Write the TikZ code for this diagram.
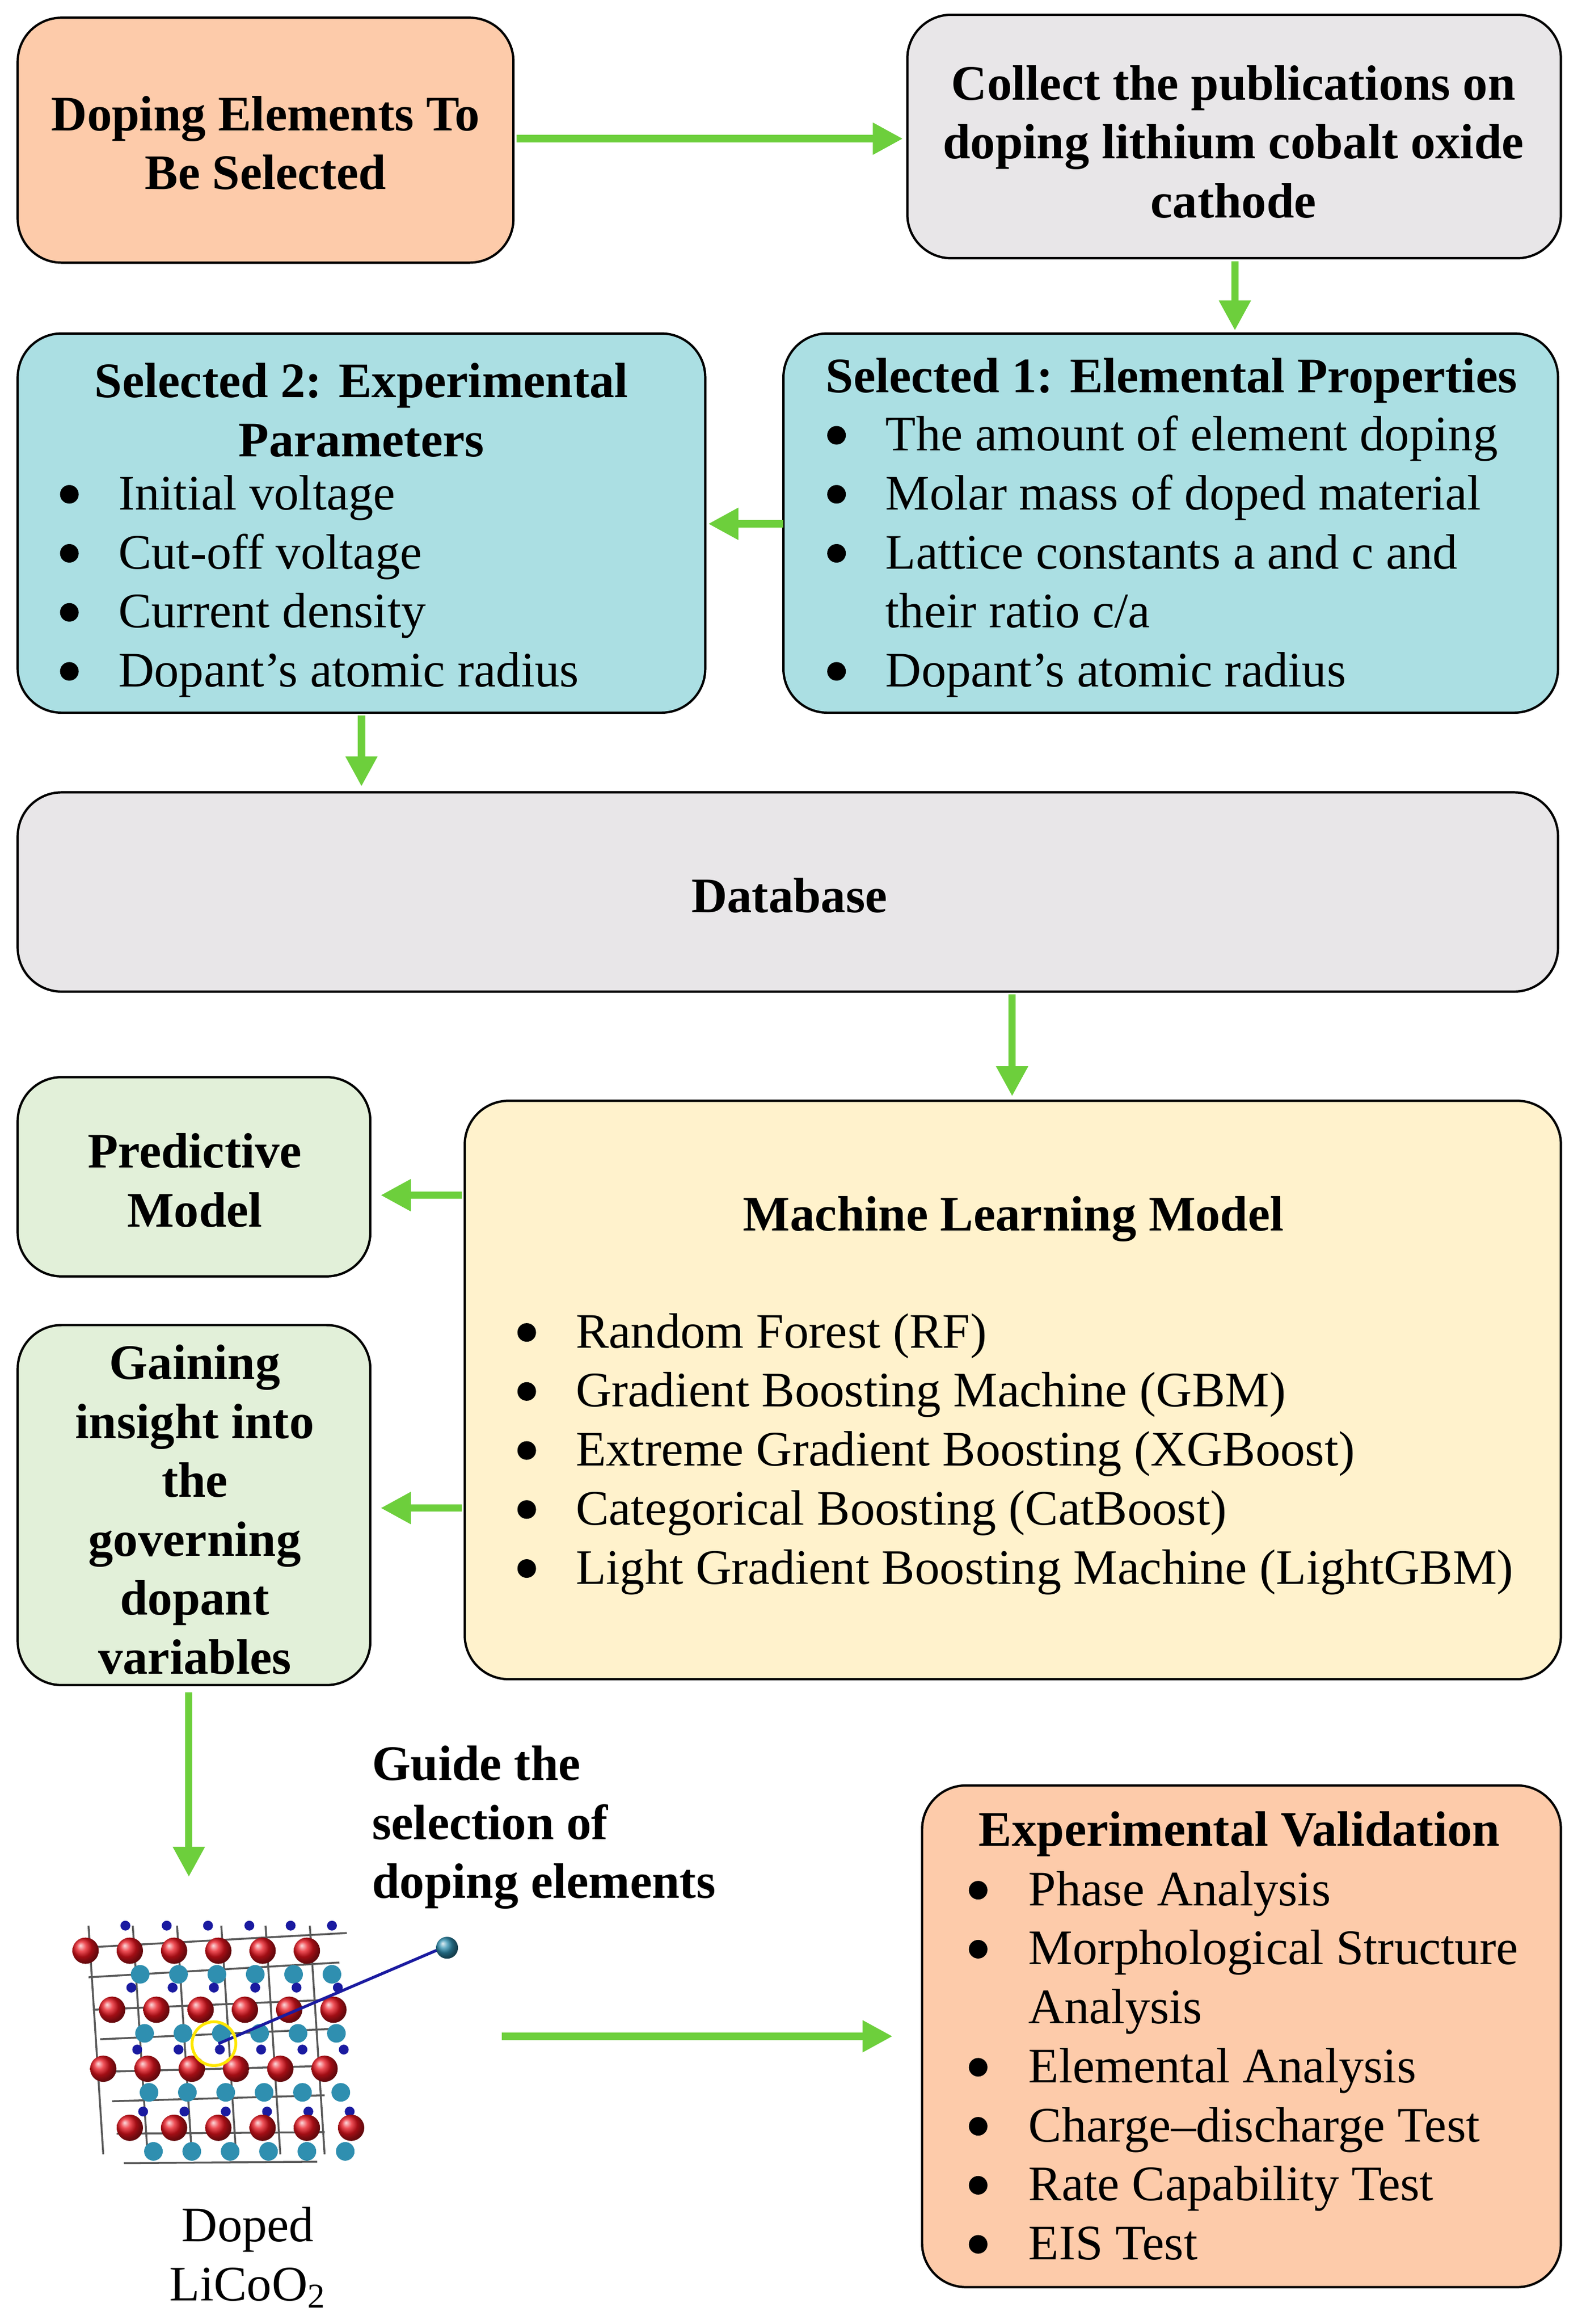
\documentclass[tikz,border=0pt]{standalone}
\usepackage{fontspec}
\setmainfont{Liberation Serif}
\usetikzlibrary{arrows.meta}
\definecolor{peach}{HTML}{FDCBAA}
\definecolor{gry}{HTML}{E8E6E8}
\definecolor{cya}{HTML}{ABDFE3}
\definecolor{yel}{HTML}{FFF2CC}
\definecolor{grn}{HTML}{E2F0D9}
\definecolor{arr}{HTML}{6DCF3C}
\definecolor{atred}{HTML}{E8141E}
\definecolor{atteal}{HTML}{2F8FB0}
\definecolor{atblue}{HTML}{1A1AA0}
\begin{document}
\begin{tikzpicture}[x=0.02694cm,y=-0.02694cm,
  box/.style={draw=black,line width=1.2pt,rounded corners=0.8cm},
  txt/.style={font=\fontsize{25.8}{30.6}\selectfont,inner sep=0pt},
  btxt/.style={txt,font=\fontsize{25.8}{30.6}\selectfont\bfseries,align=center},
  li/.style={txt,anchor=mid west,yshift=-0.2cm},
  ga/.style={draw=arr,line width=3.8pt,-{Triangle[length=0.55cm,width=0.55cm]}}]
\useasboundingbox (0,0) rectangle (1072,1575);
% boxes
\draw[box,fill=peach] (12,12) rectangle (348,178);
\node[btxt] (b1) at (180,97) {Doping Elements To\\Be Selected};
\draw[box,fill=gry] (615,10) rectangle (1058,175);
\node[btxt] (b2) at (836,96) {Collect the publications on\\doping lithium cobalt oxide\\cathode};
\draw[box,fill=cya] (531,226) rectangle (1056,483);
\node[btxt] (s1t) at (794,258) {Selected 1: Elemental Properties};
\draw[box,fill=cya] (12,226) rectangle (478,483);
\node[btxt] (s2t) at (245,278) {Selected 2: Experimental\\Parameters};
\draw[box,fill=gry] (12,537) rectangle (1056,672);
\node[btxt] (db) at (535,607) {Database};
\draw[box,fill=yel] (315,746) rectangle (1058,1138);
\node[btxt] (mlt) at (687,826) {Machine Learning Model};
\draw[box,fill=grn] (12,730) rectangle (251,865);
\node[btxt] (pm) at (132,800) {Predictive\\Model};
\draw[box,fill=grn] (12,898) rectangle (251,1142);
\node[btxt] (gi) at (132,1023) {Gaining\\insight into\\the\\governing\\dopant\\variables};
\draw[box,fill=peach] (625,1210) rectangle (1058,1550);
\node[btxt] (evt) at (840,1243) {Experimental Validation};
% bullet lists
\foreach \y/\t [count=\i] in {295/The amount of element doping,335/Molar mass of doped material,375/Lattice constants a and c and,455/Dopant’s atomic radius}{
  \fill (567,\y) circle (0.17cm);
  \node[li] (s1l\i) at (600,\y) {\t};}
\node[li] (s1x) at (600,415) {their ratio c/a};
\foreach \y/\t [count=\i] in {335/Initial voltage,375/Cut-off voltage,415/Current density,455/Dopant’s atomic radius}{
  \fill (47,\y) circle (0.17cm);
  \node[li] (s2l\i) at (80,\y) {\t};}
\foreach \y/\t [count=\i] in {903/Random Forest (RF),943/Gradient Boosting Machine (GBM),983/Extreme Gradient Boosting (XGBoost),1023/Categorical Boosting (CatBoost),1063/Light Gradient Boosting Machine (LightGBM)}{
  \fill (357,\y) circle (0.17cm);
  \node[li] (mll\i) at (390,\y) {\t};}
\foreach \y/\t [count=\i] in {1281/Phase Analysis,1321/Morphological Structure,1401/Elemental Analysis,1441/Charge–discharge Test,1481/Rate Capability Test,1521/EIS Test}{
  \fill (663,\y) circle (0.17cm);
  \node[li] (evl\i) at (697,\y) {\t};}
\node[li] (evx) at (697,1361) {Analysis};
\node[txt,font=\fontsize{25.8}{30.6}\selectfont\bfseries,align=left,anchor=north west] (guide) at (252,1183) {Guide the\\selection of\\doping elements};
\node[txt,align=center] (lco) at (168,1530) {Doped\\LiCoO\textsubscript{2}};
% crystal (simplified)
\begin{scope}[line width=1pt,draw=gray!70!black]
\foreach \r in {0,1,2,3}{
  \draw ({55+\r*8},{1320+\r*42}) -- ({235-\r*5},{1310+\r*45});
  \draw ({60+\r*8},{1340+\r*42}) -- ({230-\r*5},{1330+\r*45});}
\foreach \c in {0,...,5}{
  \draw ({60+\c*30},1305) -- ({70+\c*30},1460);}
\end{scope}
\foreach \r in {0,...,3}{
  \foreach \c in {0,...,5}{
    \fill[atblue] ({85+\c*28+\r*4},{1305+\r*42}) circle (0.09cm);
    \fill[atteal] ({95+\c*26+\r*3},{1338+\r*40}) circle (0.17cm);}}
\foreach \r in {0,...,3}{
  \foreach \c in {0,...,5}{
    \shade[ball color=atred] ({58+\c*30+\r*6+mod(\r,2)*12},{1322+\r*40}) circle (0.24cm);}}
\draw[atblue,line width=1.5pt] (148,1385) -- (300,1320);
\shade[ball color=atteal] (303,1320) circle (0.2cm);
\draw[yellow!90!orange,line width=1.5pt] (145,1385) circle (0.4cm);
% arrows
\coordinate (p0) at (350,94); \coordinate (p00) at (612,94);
\draw[ga] (p0) -- (p00);
\coordinate (p1) at (837,177); \coordinate (p2) at (837,224);
\draw[ga] (p1) -- (p2);
\coordinate (p3) at (531,355); \coordinate (p4) at (480,355);
\draw[ga] (p3) -- (p4);
\coordinate (p5) at (245,485); \coordinate (p6) at (245,533);
\draw[ga] (p5) -- (p6);
\coordinate (p7) at (686,674); \coordinate (p8) at (686,743);
\draw[ga] (p7) -- (p8);
\coordinate (p9) at (313,810); \coordinate (p10) at (258,810);
\draw[ga] (p9) -- (p10);
\coordinate (p11) at (313,1022); \coordinate (p12) at (258,1022);
\draw[ga] (p11) -- (p12);
\coordinate (p13) at (128,1147); \coordinate (p14) at (128,1272);
\draw[ga] (p13) -- (p14);
\coordinate (p15) at (340,1380); \coordinate (p16) at (605,1380);
\draw[ga] (p15) -- (p16);
\end{tikzpicture}
\end{document}
